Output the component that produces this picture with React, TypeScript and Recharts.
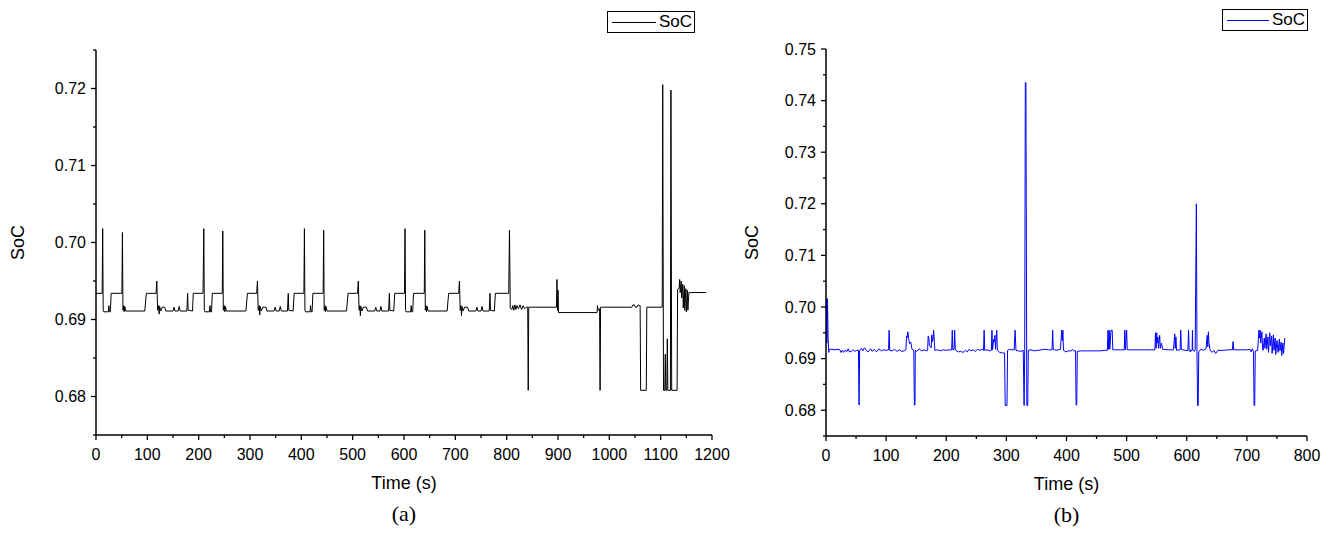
import { LineChart, Line, XAxis, YAxis, Legend, Label } from 'recharts'

const FONT = '"Liberation Sans", Arial, sans-serif'
const SERIF = '"Liberation Serif", "Times New Roman", serif'

// (a) SoC over time, [time s, SoC]
const socA: [number, number][] = [
  [0, 0.6934], [12, 0.6934], [13, 0.7018], [14, 0.6912], [15, 0.691], [24, 0.691], [25, 0.6918], [26, 0.691], [28, 0.691], [29.5, 0.6934],
  [50.5, 0.6934], [51.5, 0.7013], [52.5, 0.6912], [54, 0.6918], [55, 0.691], [56, 0.6917], [58, 0.6911], [95, 0.6911], [98, 0.6934], [117, 0.6934],
  [118.5, 0.695], [120, 0.6912], [122, 0.6918], [123, 0.6907], [124, 0.6917], [126, 0.6911], [129, 0.6916], [134, 0.6916], [136, 0.6911], [150, 0.6911],
  [152, 0.6916], [154, 0.6911], [160, 0.6911], [162, 0.6917], [164, 0.6911], [177, 0.6911], [178.5, 0.6934], [179.5, 0.6912], [188, 0.6911], [189.5, 0.6934],
  [208.5, 0.6934], [210, 0.7018], [211, 0.6912], [212, 0.691], [221, 0.691], [222, 0.6918], [223, 0.691], [225, 0.691], [226.5, 0.6934], [246, 0.6934],
  [247, 0.7015], [248, 0.6912], [250, 0.6918], [251, 0.691], [252, 0.6917], [254, 0.6911], [292, 0.6911], [295, 0.6934], [313, 0.6934], [314.5, 0.695],
  [316, 0.6912], [318, 0.6918], [319, 0.6906], [320, 0.6917], [322, 0.6911], [325, 0.6916], [331, 0.6916], [333, 0.6911], [347, 0.6911], [349, 0.6916],
  [351, 0.6911], [357, 0.6911], [359, 0.6917], [361, 0.6911], [373, 0.6911], [374.5, 0.6934], [375.5, 0.6912], [384, 0.6911], [386, 0.6934], [405, 0.6934],
  [406, 0.7018], [407, 0.6912], [408, 0.691], [417, 0.691], [418, 0.6918], [419, 0.691], [421, 0.691], [422.5, 0.6934], [442.5, 0.6934], [443.5, 0.7016],
  [444.5, 0.6912], [446, 0.6918], [447, 0.691], [448, 0.6917], [450, 0.6911], [488, 0.6911], [491, 0.6934], [509.5, 0.6934], [511, 0.695], [512.5, 0.6912],
  [514, 0.6918], [515, 0.6905], [516, 0.6917], [518, 0.6911], [521, 0.6916], [527, 0.6916], [529, 0.6911], [543, 0.6911], [545, 0.6916], [547, 0.6911],
  [553, 0.6911], [555, 0.6917], [557, 0.6911], [570, 0.6911], [571.5, 0.6934], [572.5, 0.6912], [580, 0.6911], [582, 0.6934], [601, 0.6934], [602, 0.7018],
  [603, 0.6912], [604, 0.691], [613, 0.691], [614, 0.6918], [615, 0.691], [617, 0.691], [618.5, 0.6934], [639.5, 0.6934], [640.5, 0.7016], [641.5, 0.6912],
  [643, 0.6918], [644, 0.691], [645, 0.6917], [647, 0.6911], [684, 0.6911], [687, 0.6934], [706.5, 0.6934], [708, 0.695], [709.5, 0.6912], [711, 0.6918],
  [712, 0.6905], [713, 0.6917], [715, 0.6911], [718, 0.6916], [724, 0.6916], [726, 0.6911], [740, 0.6911], [742, 0.6916], [744, 0.6911], [750, 0.6911],
  [752, 0.6917], [754, 0.6911], [766, 0.6911], [767.5, 0.6934], [768.5, 0.6912], [776, 0.6911], [778, 0.6934], [804, 0.6934], [805.5, 0.7016], [807, 0.6915],
  [810, 0.6913], [812, 0.6918], [814, 0.6912], [816, 0.6919], [818, 0.6913], [820, 0.6918], [823, 0.6914], [826, 0.6919], [829, 0.6913], [832, 0.6918],
  [835, 0.6914], [838, 0.6916], [841, 0.6916], [842, 0.6808], [843, 0.6916], [897, 0.6916], [898, 0.6952], [899, 0.6912], [900, 0.6938], [901, 0.6909],
  [976, 0.6909], [977, 0.6918], [978, 0.6912], [981, 0.6914], [982, 0.6808], [983, 0.6916], [1044, 0.6916], [1046, 0.6919], [1049, 0.6919], [1051, 0.6916],
  [1054, 0.6916], [1056, 0.6919], [1058, 0.6918], [1060, 0.6918], [1061, 0.6808], [1072, 0.6808], [1073, 0.6916], [1103, 0.6916], [1104, 0.7205], [1105.5, 0.6808],
  [1108, 0.6808], [1109, 0.6855], [1110, 0.6808], [1112, 0.6808], [1113, 0.6875], [1114, 0.6808], [1119, 0.6808], [1120, 0.7198], [1121.5, 0.6808], [1132, 0.6808],
  [1133, 0.6939], [1136, 0.6941], [1137, 0.6952], [1138, 0.6935], [1140, 0.695], [1141, 0.6928], [1143, 0.6946], [1144, 0.6915], [1146, 0.6944], [1147, 0.6912],
  [1149, 0.694], [1150, 0.691], [1152, 0.6938], [1153, 0.6912], [1155, 0.6935], [1158, 0.6935], [1189, 0.6935],
]

// (b) SoC over time, [time s, SoC]
const socB: [number, number][] = [
  [0, 0.6935], [1, 0.7016], [1.5, 0.693], [2.5, 0.7016], [3.5, 0.694], [4.5, 0.6912], [6, 0.6918], [10, 0.6918], [15, 0.6917], [20, 0.6918],
  [23, 0.6917], [25, 0.6912], [27, 0.6916], [29, 0.6912], [31, 0.6916], [35, 0.6914], [37, 0.6919], [39, 0.6913], [42, 0.6914], [45, 0.6917],
  [48, 0.6914], [51, 0.6916], [54, 0.6916], [55, 0.681], [56, 0.6916], [59, 0.692], [61, 0.6915], [64, 0.6921], [67, 0.6916], [70, 0.6913],
  [74, 0.6919], [77, 0.6914], [80, 0.6918], [84, 0.6913], [88, 0.6919], [92, 0.6915], [96, 0.6917], [100, 0.6916], [104, 0.6917], [105, 0.6955],
  [106, 0.6916], [110, 0.6915], [114, 0.6918], [118, 0.6914], [122, 0.6917], [126, 0.6914], [130, 0.6915], [133, 0.6917], [134, 0.6944], [135, 0.6941],
  [136, 0.6952], [138, 0.6935], [139, 0.6929], [141, 0.6932], [143, 0.6918], [146, 0.6916], [147, 0.681], [148, 0.681], [148.5, 0.6916], [151, 0.6914],
  [155, 0.6919], [159, 0.6915], [163, 0.6917], [167, 0.6915], [169, 0.6916], [170, 0.6944], [171, 0.694], [172, 0.6926], [175, 0.6921], [176, 0.6946],
  [177, 0.6933], [178, 0.6938], [179, 0.6955], [180, 0.6936], [181, 0.6916], [186, 0.6917], [190, 0.6915], [195, 0.6917], [200, 0.6916], [205, 0.6917],
  [209, 0.6917], [210, 0.6955], [211, 0.6917], [213, 0.6918], [214, 0.6955], [215, 0.6917], [220, 0.6913], [224, 0.6914], [228, 0.6912], [232, 0.6916],
  [235, 0.6913], [238, 0.6918], [241, 0.6915], [245, 0.6917], [248, 0.6914], [252, 0.6918], [256, 0.6916], [260, 0.6918], [262, 0.6916], [263, 0.6955],
  [264, 0.6916], [268, 0.6917], [272, 0.6915], [275, 0.6916], [276, 0.6955], [277, 0.6917], [279, 0.6937], [280, 0.6933], [281, 0.6945], [282, 0.6918],
  [284, 0.6955], [285, 0.6916], [289, 0.6912], [293, 0.6911], [297, 0.6911], [298, 0.6809], [301, 0.6809], [302, 0.6916], [305, 0.6918], [309, 0.6917],
  [313, 0.6917], [314.5, 0.6955], [316, 0.6916], [320, 0.6915], [324, 0.6914], [328, 0.6916], [329.5, 0.6809], [330.5, 0.6916], [331.5, 0.7435], [332.5, 0.7435],
  [334, 0.6809], [335.5, 0.6809], [336.5, 0.6916], [341, 0.6917], [346, 0.6915], [352, 0.6916], [358, 0.6917], [364, 0.6918], [370, 0.6917], [376, 0.6917],
  [377, 0.6955], [378, 0.6918], [382, 0.6916], [386, 0.6917], [390, 0.6918], [392, 0.6955], [393, 0.6935], [394, 0.6955], [395, 0.6916], [399, 0.6913],
  [403, 0.6915], [408, 0.6915], [410, 0.6918], [412, 0.6915], [415, 0.6915], [416, 0.681], [417, 0.681], [418, 0.6914], [425, 0.6915], [435, 0.6915],
  [445, 0.6915], [455, 0.6915], [465, 0.6916], [468, 0.6916], [469, 0.6955], [470, 0.6918], [471, 0.6955], [472, 0.6918], [474, 0.6955], [476, 0.6955],
  [477, 0.6917], [482, 0.6917], [490, 0.6917], [496, 0.6917], [497, 0.6955], [498, 0.6917], [500, 0.6955], [501, 0.6917], [510, 0.6917], [520, 0.6917],
  [530, 0.6917], [540, 0.6917], [547, 0.6917], [548, 0.695], [549, 0.692], [550, 0.695], [551, 0.693], [552, 0.6942], [553, 0.692], [555, 0.6945],
  [556, 0.692], [558, 0.693], [560, 0.6918], [570, 0.6917], [578, 0.6917], [580, 0.6948], [581, 0.692], [582, 0.6942], [583, 0.6916], [589, 0.6917],
  [590, 0.6955], [591, 0.6918], [597, 0.6916], [602, 0.6916], [603, 0.6955], [604, 0.6916], [606, 0.6913], [607, 0.6917], [608, 0.6915], [609, 0.6916],
  [609.5, 0.6955], [610, 0.6918], [612, 0.6914], [614, 0.6916], [616, 0.72], [617, 0.6914], [618, 0.6809], [619, 0.6809], [620, 0.6914], [624, 0.6918],
  [628, 0.6916], [632, 0.6919], [634, 0.6945], [635, 0.6923], [636, 0.6952], [637, 0.693], [639, 0.6916], [642, 0.6912], [645, 0.6916], [648, 0.691],
  [652, 0.6916], [660, 0.6916], [670, 0.6917], [676, 0.6917], [677, 0.6933], [678, 0.6917], [690, 0.6917], [700, 0.6917], [705, 0.6918], [707, 0.6913],
  [709, 0.6919], [711, 0.6914], [712, 0.6809], [713, 0.6809], [714, 0.6915], [718, 0.6916], [720, 0.6955], [721, 0.694], [722, 0.6955], [723, 0.693],
  [725, 0.6952], [726, 0.6921], [727, 0.6916], [729, 0.694], [730, 0.692], [732, 0.6948], [733, 0.6918], [735, 0.6942], [736, 0.6912], [738, 0.695],
  [739, 0.6925], [741, 0.6944], [742, 0.691], [744, 0.6946], [745, 0.6916], [747, 0.694], [748, 0.6908], [750, 0.6935], [752, 0.6912], [754, 0.6938],
  [755, 0.6915], [757, 0.6932], [758, 0.6906], [760, 0.693], [761, 0.691], [763, 0.694],
]

const xTicksA = [0, 50, 100, 150, 200, 250, 300, 350, 400, 450, 500, 550, 600, 650, 700, 750, 800, 850, 900, 950, 1000, 1050, 1100, 1150, 1200]
const yTicksA = [0.675, 0.68, 0.685, 0.69, 0.695, 0.7, 0.705, 0.71, 0.715, 0.72, 0.725]
const xTicksB = [0, 50, 100, 150, 200, 250, 300, 350, 400, 450, 500, 550, 600, 650, 700, 750, 800]
const yTicksB = [0.675, 0.68, 0.685, 0.69, 0.695, 0.7, 0.705, 0.71, 0.715, 0.72, 0.725, 0.73, 0.735, 0.74, 0.745, 0.75]

function XTick(props: any) {
  const { x, y, payload } = props
  const v = payload.value
  const major = v % 100 === 0
  return (
    <g>
      <line x1={x} x2={x} y1={y} y2={y + (major ? 5 : 3)} stroke="#000" strokeWidth={1.3} />
      {major && (
        <text x={x} y={y + 25} textAnchor="middle" fontSize={16} fontFamily={FONT} fill="#000">
          {v}
        </text>
      )}
    </g>
  )
}

function YTick(props: any) {
  const { x, y, payload } = props
  const v = payload.value
  const major = Math.round(v * 1000) % 10 === 0
  return (
    <g>
      <line x1={x - (major ? 5 : 3)} x2={x} y1={y} y2={y} stroke="#000" strokeWidth={1.3} />
      {major && (
        <text x={x - 10} y={y} dy="0.35em" textAnchor="end" fontSize={16} fontFamily={FONT} fill="#000">
          {v.toFixed(2)}
        </text>
      )}
    </g>
  )
}

function LegendBox({ color, width }: { color: string; width: number }) {
  return (
    <div
      style={{
        border: '1px solid #000',
        boxSizing: 'border-box',
        width,
        height: 22,
        display: 'flex',
        alignItems: 'center',
        justifyContent: 'flex-end',
        paddingRight: 2,
        fontFamily: FONT,
        fontSize: 17,
        color: '#000',
        background: '#fff',
      }}
    >
      <span style={{ display: 'inline-block', width: width - 44, borderTop: `1px solid ${color}`, marginRight: 3 }} />
      <span>SoC</span>
    </div>
  )
}

interface PanelProps {
  series: [number, number][]
  color: string
  left: number
  width: number
  top: number
  right: number
  yAxisWidth: number
  xAxisHeight: number
  xDomain: [number, number]
  yDomain: [number, number]
  xTicks: number[]
  yTicks: number[]
  caption: string
  legendLeft: number
  legendTop: number
  legendWidth: number
  yLabelOffset: number
}

function Panel(p: PanelProps) {
  const data = p.series.map(([t, soc]) => ({ t, soc }))
  return (
    <div style={{ position: 'absolute', left: p.left, top: 0 }}>
      <LineChart width={p.width} height={533} data={data} margin={{ top: p.top, right: p.right, bottom: 0, left: 0 }}>
        <XAxis
          dataKey="t"
          type="number"
          domain={p.xDomain}
          ticks={p.xTicks}
          interval={0}
          tickSize={0}
          tickMargin={0}
          tickLine={false}
          tick={<XTick />}
          axisLine={{ stroke: '#000', strokeWidth: 1.5 }}
          height={p.xAxisHeight}
          allowDataOverflow
        >
          <Label value="Time (s)" position="insideTop" offset={41} style={{ fontFamily: FONT, fontSize: 18, fill: '#000' }} />
          <Label value={p.caption} position="insideTop" offset={70} style={{ fontFamily: SERIF, fontSize: 22, fill: '#000' }} />
        </XAxis>
        <YAxis
          type="number"
          domain={p.yDomain}
          ticks={p.yTicks}
          interval={0}
          tickSize={0}
          tickMargin={0}
          tickLine={false}
          tick={<YTick />}
          axisLine={{ stroke: '#000', strokeWidth: 1.5 }}
          width={p.yAxisWidth}
          allowDataOverflow
        >
          <Label
            value="SoC"
            angle={-90}
            position="insideLeft"
            offset={p.yLabelOffset}
            style={{ fontFamily: FONT, fontSize: 18, fill: '#000', textAnchor: 'middle' }}
          />
        </YAxis>
        <Legend
          layout="horizontal"
          verticalAlign="middle"
          align="center"
          wrapperStyle={{ left: p.legendLeft, top: p.legendTop, width: 'auto' }}
          content={() => <LegendBox color={p.color} width={p.legendWidth} />}
        />
        <Line
          type="linear"
          dataKey="soc"
          name="SoC"
          stroke={p.color}
          strokeWidth={1}
          dot={false}
          activeDot={false}
          isAnimationActive={false}
        />
      </LineChart>
    </div>
  )
}

export default function App() {
  // absolute at the page origin so the body margin does not shift the panels
  return (
    <div style={{ position: 'absolute', left: 0, top: 0, width: 1333, height: 533, background: '#fff' }}>
      <Panel
        series={socA}
        color="#000000"
        left={0}
        width={740}
        top={50}
        right={28}
        yAxisWidth={96}
        xAxisHeight={98}
        xDomain={[0, 1200]}
        yDomain={[0.675, 0.725]}
        xTicks={xTicksA}
        yTicks={yTicksA}
        caption="(a)"
        legendLeft={607}
        legendTop={11}
        legendWidth={88}
        yLabelOffset={18}
      />
      <Panel
        series={socB}
        color="#0000ff"
        left={740}
        width={593}
        top={49}
        right={26}
        yAxisWidth={86}
        xAxisHeight={97}
        xDomain={[0, 800]}
        yDomain={[0.675, 0.75]}
        xTicks={xTicksB}
        yTicks={yTicksB}
        caption="(b)"
        legendLeft={482}
        legendTop={9}
        legendWidth={86}
        yLabelOffset={12}
      />
    </div>
  )
}
